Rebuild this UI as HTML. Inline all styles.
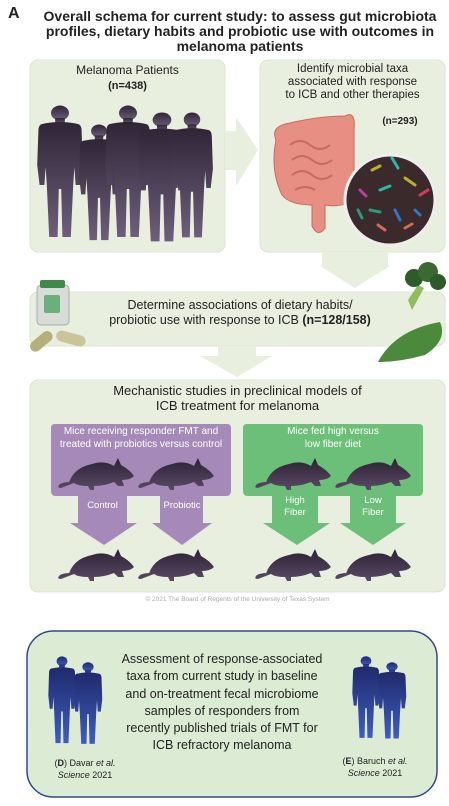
<!DOCTYPE html>
<html><head><meta charset="utf-8">
<style>
html,body{margin:0;padding:0;background:#fff;}
body{width:449px;height:806px;position:relative;overflow:hidden;font-family:"Liberation Sans",Arial,sans-serif;}
.t{position:absolute;text-align:center;color:#222;}
</style></head>
<body>
<svg width="449" height="806" viewBox="0 0 449 806" style="position:absolute;left:0;top:0">
<defs>
<linearGradient id="pg" x1="0" y1="0" x2="0" y2="1"><stop offset="0" stop-color="#2f2536"/><stop offset="1" stop-color="#6d5f7c"/></linearGradient>
<linearGradient id="bg" x1="0" y1="0" x2="0" y2="1"><stop offset="0" stop-color="#1f2a6b"/><stop offset="1" stop-color="#3f5cc0"/></linearGradient>
<linearGradient id="mg" x1="0" y1="0" x2="0" y2="1"><stop offset="0" stop-color="#2c2233"/><stop offset="1" stop-color="#5a4a66"/></linearGradient>
<g id="person">
<circle cx="0" cy="8" r="7.5"/>
<rect x="-4" y="13" width="8" height="7"/>
<path d="M-15 19 Q0 15 15 19 Q18 20 18 26 L19 60 L17 80 L13 80 L12 62 L11 80 L9 132 L2 132 L1 84 L-1 84 L-2 132 L-9 132 L-11 80 L-12 62 L-13 80 L-17 80 L-19 60 L-18 26 Q-18 20 -15 19 Z"/>
</g>
<g id="mouse">
<path d="M10 30 Q14 12 34 8 Q46 4 56 10 L60 2 L63 9 Q72 14 76 20 Q72 24 64 24 L66 30 L60 30 L56 26 Q46 30 36 30 L36 34 L32 34 L30 30 Q20 30 16 27 Q8 30 3 32 Q-2 32 2 28 Q6 26 12 26 Z"/>
</g>
</defs>

<rect x="30" y="60" width="195" height="192" rx="8" fill="#e8efdf" stroke="#dbe4d0"/>
<g fill="url(#pg)">
<use href="#person" transform="translate(60,105) scale(1.2,1.0)"/>
<use href="#person" transform="translate(99,124) scale(1.05,0.88)"/>
<use href="#person" transform="translate(128,105) scale(1.2,1.0)"/>
<use href="#person" transform="translate(162,112) scale(1.25,0.98)"/>
<use href="#person" transform="translate(192,112) scale(1.1,0.95)"/>
</g>
<path d="M225 131 L236 131 L236 117 L258 150 L236 186 L236 170 L225 170 Z" fill="#e8efdf"/>
<rect x="260" y="60" width="185" height="192" rx="8" fill="#e8efdf" stroke="#dbe4d0"/>
<g>
<path d="M276 140 Q270 126 290 123 Q320 116 345 116 Q356 110 354 130 L354 200 Q340 208 325 205 L325 228 Q318 238 312 226 L312 205 Q290 205 282 195 Q270 170 276 140 Z" fill="#e78f82" stroke="#c96a60"/>
<path d="M290 145 q10 -8 20 0 q10 8 20 0 M292 160 q10 -8 20 0 q10 8 20 0 M292 175 q10 -8 20 0 q10 8 20 0 M295 190 q10 -6 20 0" fill="none" stroke="#c96a60" stroke-width="2"/>
</g>
<circle cx="390" cy="200" r="45" fill="#3a2a2c" stroke="#eee" stroke-width="3"/>
<g stroke-width="3" stroke-linecap="round">
<line x1="392" y1="158" x2="398" y2="168" stroke="#2ab8a8"/><line x1="372" y1="170" x2="380" y2="166" stroke="#b8b02a"/>
<line x1="405" y1="178" x2="415" y2="185" stroke="#b8b02a"/><line x1="360" y1="190" x2="366" y2="196" stroke="#c23aa8"/>
<line x1="420" y1="195" x2="428" y2="190" stroke="#d93a5a"/><line x1="370" y1="210" x2="380" y2="212" stroke="#2a9a80"/>
<line x1="395" y1="210" x2="400" y2="220" stroke="#2a7ac0"/><line x1="378" y1="225" x2="385" y2="230" stroke="#d06a50"/>
<line x1="405" y1="228" x2="412" y2="224" stroke="#d06a50"/><line x1="380" y1="190" x2="390" y2="186" stroke="#2ab8a8"/>
<line x1="415" y1="210" x2="420" y2="215" stroke="#2a7ac0"/><line x1="358" y1="210" x2="362" y2="218" stroke="#2a9a80"/>
</g>
<path d="M322 252 L388 252 L388 266 L390 266 L355 288 L320 266 L322 266 Z" fill="#e8efdf"/>
<rect x="30" y="292" width="415" height="54" rx="8" fill="#e8efdf" stroke="#dbe4d0"/>
<g>
<rect x="37" y="285" width="32" height="40" rx="4" fill="#d8dcd8" stroke="#aaa"/>
<rect x="40" y="280" width="25" height="8" rx="2" fill="#3d8a4a"/>
<rect x="44" y="295" width="16" height="18" rx="2" fill="#6ab07a"/>
<rect x="28" y="336" width="26" height="11" rx="5.5" fill="#b5b07a" transform="rotate(-40 41 341)"/>
<rect x="56" y="333" width="30" height="11" rx="5.5" fill="#c9c49a" transform="rotate(15 71 338)"/>
</g>
<g>
<path d="M408 300 L418 285 L424 288 L412 310 Z" fill="#8fbf5a"/>
<circle cx="414" cy="278" r="9" fill="#2f5a2a"/><circle cx="428" cy="272" r="10" fill="#3a6a32"/><circle cx="438" cy="282" r="8" fill="#2f5a2a"/>
<path d="M378 362 Q395 330 440 322 Q448 340 425 355 Q400 362 378 362 Z" fill="#4a8a3a"/>
</g>
<path d="M218 346 L256 346 L256 356 L272 356 L237 377 L200 356 L218 356 Z" fill="#e8efdf"/>
<rect x="30" y="380" width="415" height="212" rx="8" fill="#e8efdf" stroke="#dbe4d0"/>
<path d="M55 424 L227 424 Q231 424 231 428 L231 491 Q231 496 226 496 L203 496 L203 523 L212 523 L182 545 L152 523 L160 523 L160 496 L127 496 L127 523 L137 523 L104 545 L70 523 L78 523 L78 496 L56 496 Q51 496 51 491 L51 428 Q51 424 55 424 Z" fill="#a58ab9"/>
<path d="M247 424 L419 424 Q423 424 423 428 L423 491 Q423 496 418 496 L396 496 L396 523 L406 523 L373 545 L340 523 L350 523 L350 496 L318 496 L318 523 L330 523 L297 545 L263 523 L272 523 L272 496 L248 496 Q243 496 243 491 L243 428 Q243 424 247 424 Z" fill="#6cbf78"/>
<g fill="url(#mg)">
<use href="#mouse" transform="translate(58,456)"/>
<use href="#mouse" transform="translate(138,456)"/>
<use href="#mouse" transform="translate(255,456)"/>
<use href="#mouse" transform="translate(335,456)"/>
<use href="#mouse" transform="translate(58,547)"/>
<use href="#mouse" transform="translate(138,547)"/>
<use href="#mouse" transform="translate(255,547)"/>
<use href="#mouse" transform="translate(335,547)"/>
</g>
<rect x="27" y="631" width="410" height="166" rx="26" fill="#dcebd4" stroke="#2e4a8c" stroke-width="1.5"/>
<g fill="url(#bg)">
<use href="#person" transform="translate(62,656) scale(0.72,0.66)"/>
<use href="#person" transform="translate(88,662) scale(0.75,0.62)"/>
<use href="#person" transform="translate(366,656) scale(0.72,0.62)"/>
<use href="#person" transform="translate(392,662) scale(0.75,0.58)"/>
</g>
</svg>

<div class="t" style="left:8px;top:5px;font-size:16px;font-weight:bold;">A</div>
<div class="t" style="left:30px;top:9px;width:420px;font-size:14px;font-weight:bold;line-height:15px;">Overall schema for current study: to assess gut microbiota<br>profiles, dietary habits and probiotic use with outcomes in<br>melanoma patients</div>
<div class="t" style="left:30px;top:63px;width:195px;font-size:12px;line-height:15px;">Melanoma Patients<br><b style="font-size:11px">(n=438)</b></div>
<div class="t" style="left:260px;top:63px;width:185px;font-size:11.5px;line-height:13px;">Identify microbial taxa<br>associated with response<br>to ICB and other therapies</div>
<div class="t" style="left:375px;top:116px;width:50px;font-size:10px;font-weight:bold;">(n=293)</div>
<div class="t" style="left:80px;top:298px;width:320px;font-size:12.5px;line-height:15px;">Determine associations of dietary habits/<br>probiotic use with response to ICB <b>(n=128/158)</b></div>
<div class="t" style="left:30px;top:383px;width:415px;font-size:13px;line-height:15px;">Mechanistic studies in preclinical models of<br>ICB treatment for melanoma</div>
<div class="t" style="left:50px;top:425px;width:182px;font-size:10px;line-height:13px;color:#fff;">Mice receiving responder FMT and<br>treated with probiotics versus control</div>
<div class="t" style="left:243px;top:425px;width:180px;font-size:10px;line-height:13px;color:#fff;">Mice fed high versus<br>low fiber diet</div>
<div class="t" style="left:78px;top:500px;width:49px;font-size:9.5px;color:#fff;">Control</div>
<div class="t" style="left:157px;top:500px;width:50px;font-size:9.5px;color:#fff;">Probiotic</div>
<div class="t" style="left:272px;top:495px;width:46px;font-size:9.5px;line-height:12px;color:#fff;">High<br>Fiber</div>
<div class="t" style="left:350px;top:495px;width:46px;font-size:9.5px;line-height:12px;color:#fff;">Low<br>Fiber</div>
<div class="t" style="left:30px;top:596px;width:415px;font-size:6.5px;color:#aaa;">© 2021 The Board of Regents of the University of Texas System</div>
<div class="t" style="left:100px;top:651px;width:244px;font-size:12.5px;line-height:17.3px;">Assessment of response-associated<br>taxa from current study in baseline<br>and on-treatment fecal microbiome<br>samples of responders from<br>recently published trials of FMT for<br>ICB refractory melanoma</div>
<div class="t" style="left:40px;top:757px;width:90px;font-size:9px;line-height:12px;">(<b>D</b>) Davar <i>et al.</i><br><i>Science</i> 2021</div>
<div class="t" style="left:330px;top:755px;width:90px;font-size:9px;line-height:12px;">(<b>E</b>) Baruch <i>et al.</i><br><i>Science</i> 2021</div>
</body></html>
